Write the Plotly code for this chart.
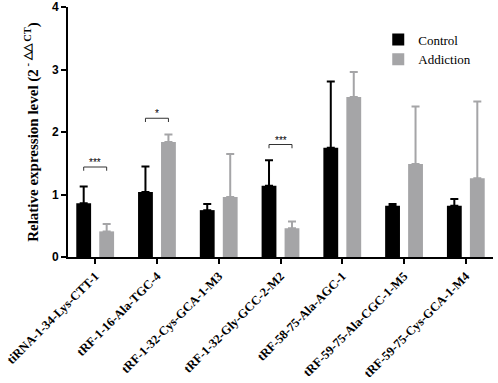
import plotly.graph_objects as go

categories = ["tiRNA-1-34-Lys-CTT-1", "tRF-1-16-Ala-TGC-4", "tRF-1-32-Cys-GCA-1-M3",
              "tRF-1-32-Gly-GCC-2-M2", "tRF-58-75-Ala-AGC-1", "tRF-59-75-Ala-CGC-1-M5",
              "tRF-59-75-Cys-GCA-1-M4"]
control = [0.86, 1.04, 0.75, 1.14, 1.75, 0.82, 0.82]
control_err = [0.27, 0.41, 0.10, 0.41, 1.06, 0.03, 0.11]
addiction = [0.41, 1.84, 0.96, 0.46, 2.56, 1.49, 1.26]
addiction_err = [0.12, 0.12, 0.69, 0.11, 0.40, 0.92, 1.23]
sig_groups = [0, 1, 3]
sig_heights = [1.44, 2.22, 1.80]
sig_labels = ["***", "*", "***"]
y_ticks = [0, 1, 2, 3, 4]

x = list(range(len(categories)))
BW = 0.24
fig = go.Figure()
fig.add_trace(go.Bar(x=x, y=control, name="Control", width=BW, offset=-0.306,
                     marker=dict(color="#000000", line=dict(width=0)),
                     error_y=dict(type="data", array=control_err, arrayminus=[0]*7,
                                  symmetric=False, color="#000000", thickness=2, width=4)))
fig.add_trace(go.Bar(x=x, y=addiction, name="Addiction", width=BW, offset=0.066,
                     marker=dict(color="#a5a5a7", line=dict(width=0)),
                     error_y=dict(type="data", array=addiction_err, arrayminus=[0]*7,
                                  symmetric=False, color="#a5a5a7", thickness=2, width=4)))

for g, h, lab in zip(sig_groups, sig_heights, sig_labels):
    x0 = g - 0.186
    x1 = g + 0.186
    fig.add_shape(type="path", xref="x", yref="y",
                  path=f"M {x0} {h-0.06} L {x0} {h} L {x1} {h} L {x1} {h-0.06}",
                  line=dict(color="#333333", width=1))
    fig.add_annotation(x=g, y=h, text=lab, showarrow=False, yanchor="bottom",
                       yshift=-3, font=dict(family="Liberation Sans", size=10, color="#000"))

fig.update_layout(
    width=498, height=383,
    margin=dict(l=68, r=5, t=7, b=126, autoexpand=False),
    plot_bgcolor="white", paper_bgcolor="white",
    barmode="overlay",
    showlegend=True,
    legend=dict(x=0.73, y=0.93, xanchor="left", yanchor="top",
                font=dict(family="Liberation Serif", size=13, color="#000"),
                bgcolor="rgba(0,0,0,0)", itemwidth=30, tracegroupgap=4),
    xaxis=dict(range=[-0.44, 6.44], tickmode="array", tickvals=x, ticktext=categories,
               tickangle=-45, showline=True, linecolor="#000", linewidth=2,
               ticks="outside", ticklen=5, tickwidth=2, tickcolor="#000",
               showgrid=False, zeroline=False, automargin=False,
               tickfont=dict(family="Liberation Serif", size=12.5, color="#000", weight="bold")),
    yaxis=dict(range=[0, 4], tickvals=y_ticks, showline=True, linecolor="#000", linewidth=2,
               ticks="outside", ticklen=5, tickwidth=2, tickcolor="#000",
               showgrid=False, zeroline=False, automargin=False,
               tickfont=dict(family="Liberation Sans", size=12, color="#000", weight="bold"),
               title=dict(text="<b>Relative expression level (2<sup> - △△ CT</sup>)</b>",
                          font=dict(family="Liberation Serif", size=15, color="#000"),
                          standoff=10)),
)
fig.write_html("out.html", config={"displayModeBar": False},
               post_script="document.body.style.margin='0';document.body.style.overflow='hidden';")
